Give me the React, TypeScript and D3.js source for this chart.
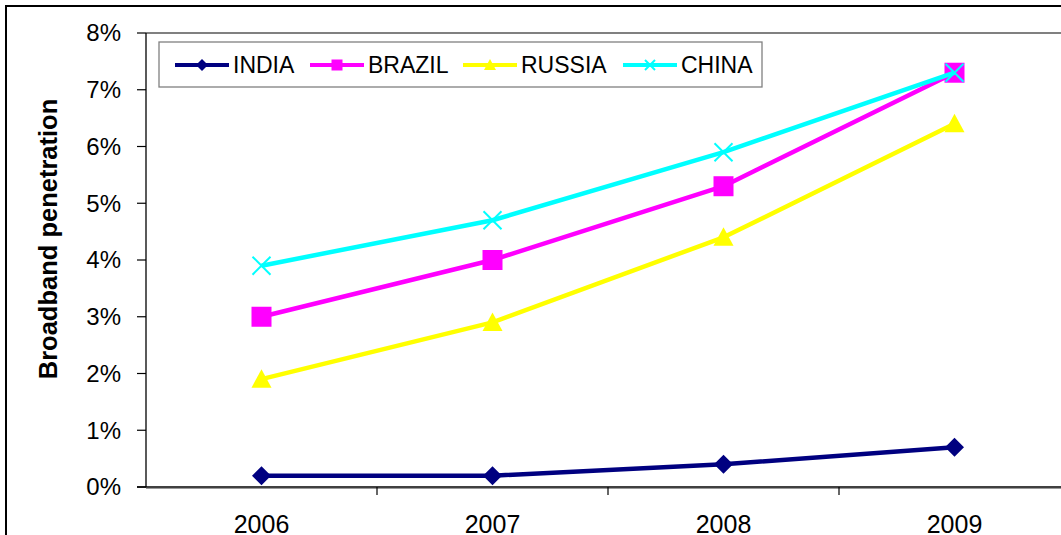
import React from "react";
import * as d3 from "d3";

const years = ["2006", "2007", "2008", "2009"];
const india = [0.2, 0.2, 0.4, 0.7];
const brazil = [3.0, 4.0, 5.3, 7.3];
const russia = [1.9, 2.9, 4.4, 6.4];
const china = [3.9, 4.7, 5.9, 7.3];
const yTicks = [0, 1, 2, 3, 4, 5, 6, 7, 8];

const seriesList = [
  { name: "INDIA", values: india, color: "#000080", marker: "diamond" },
  { name: "BRAZIL", values: brazil, color: "#FF00FF", marker: "square" },
  { name: "RUSSIA", values: russia, color: "#FFFF00", marker: "triangle" },
  { name: "CHINA", values: china, color: "#00FFFF", marker: "x" },
];

const W = 1061;
const H = 535;
const plotL = 146;
const plotT = 33;
const plotB = 487;
const plotR = 1070;
const FONT = "'Liberation Sans', Arial, sans-serif";

function Marker({ type, cx, cy, color, s }: { type: string; cx: number; cy: number; color: string; s: number }) {
  if (type === "diamond") {
    const h = s / 2;
    return <path d={`M${cx},${cy - h}L${cx + h},${cy}L${cx},${cy + h}L${cx - h},${cy}Z`} fill={color} />;
  }
  if (type === "square") {
    const h = s / 2;
    return <rect x={cx - h} y={cy - h} width={s} height={s} fill={color} />;
  }
  if (type === "triangle") {
    const h = s / 2;
    return <path d={`M${cx},${cy - h}L${cx + h},${cy + h * 0.85}L${cx - h},${cy + h * 0.85}Z`} fill={color} />;
  }
  const h = s / 2;
  return (
    <g stroke={color} strokeWidth={2}>
      <line x1={cx - h} y1={cy - h} x2={cx + h} y2={cy + h} />
      <line x1={cx - h} y1={cy + h} x2={cx + h} y2={cy - h} />
    </g>
  );
}

export default function App() {
  const x = d3.scaleBand<string>().domain(years).range([plotL, plotR]);
  const y = d3.scaleLinear().domain([0, 8]).range([plotB, plotT]);
  const cx = (yr: string) => (x(yr) as number) + x.bandwidth() / 2;
  const line = d3
    .line<number>()
    .x((_, i) => cx(years[i]))
    .y((v) => y(v));

  const mainSizes: Record<string, number> = { diamond: 19, square: 20, triangle: 20, x: 18 };
  const legendSizes: Record<string, number> = { diamond: 12, square: 11, triangle: 12, x: 10 };
  const legendLineStarts = [175, 310, 463, 623];

  return (
    <svg
      width={W}
      height={H}
      style={{ position: "absolute", left: 0, top: 0, background: "#fff" }}
      fontFamily={FONT}
    >
      <rect x={0} y={0} width={W} height={H} fill="#fff" />
      {/* outer chart border */}
      <rect x={6} y={6} width={W + 20} height={H + 20} fill="none" stroke="#000" strokeWidth={2} />

      {/* plot area border */}
      <line x1={plotL} y1={plotT} x2={plotR} y2={plotT} stroke="#808080" strokeWidth={2} />
      <line x1={plotL} y1={plotT} x2={plotL} y2={plotB} stroke="#000" strokeWidth={1.3} />
      <line x1={plotL} y1={plotB + 1.5} x2={plotR} y2={plotB + 1.5} stroke="#999" strokeWidth={1} />
      <line x1={plotL - 9} y1={plotB} x2={plotR} y2={plotB} stroke="#000" strokeWidth={1.5} />

      {/* y ticks */}
      {yTicks.map((t) => (
        <g key={t}>
          <line x1={plotL - 9} y1={y(t)} x2={plotL} y2={y(t)} stroke="#000" strokeWidth={1.2} />
          <text x={121} y={y(t)} dy="0.35em" textAnchor="end" fontSize={24} fill="#000">
            {t}%
          </text>
        </g>
      ))}

      {/* x ticks */}
      {years.map((yr, i) =>
        i > 0 ? (
          <line key={yr} x1={x(yr)} y1={plotB} x2={x(yr)} y2={plotB + 8} stroke="#000" strokeWidth={1.2} />
        ) : null
      )}
      {years.map((yr) => (
        <text key={yr} x={cx(yr)} y={533} textAnchor="middle" fontSize={25} fill="#000">
          {yr}
        </text>
      ))}

      {/* y title */}
      <text
        transform={`translate(57,${239}) rotate(-90)`}
        textAnchor="middle"
        fontSize={25.5}
        fontWeight="bold"
        fill="#000"
      >
        Broadband penetration
      </text>

      {/* series */}
      {seriesList.map((s) => (
        <g key={s.name}>
          <path d={line(s.values) || ""} fill="none" stroke={s.color} strokeWidth={4.5} strokeLinejoin="round" />
          {s.values.map((v, i) => (
            <Marker key={i} type={s.marker} cx={cx(years[i])} cy={y(v)} color={s.color} s={mainSizes[s.marker]} />
          ))}
        </g>
      ))}

      {/* legend */}
      <rect x={159} y={42} width={603} height={45} fill="#fff" stroke="#808080" strokeWidth={1.3} />
      {seriesList.map((s, i) => {
        const lx = legendLineStarts[i];
        const ly = 65;
        return (
          <g key={s.name}>
            <line x1={lx} y1={ly} x2={lx + 54} y2={ly} stroke={s.color} strokeWidth={4} />
            <Marker type={s.marker} cx={lx + 27} cy={ly} color={s.color} s={legendSizes[s.marker]} />
            <text x={lx + 58} y={ly} dy="0.35em" fontSize={23} fill="#000">
              {s.name}
            </text>
          </g>
        );
      })}
    </svg>
  );
}
